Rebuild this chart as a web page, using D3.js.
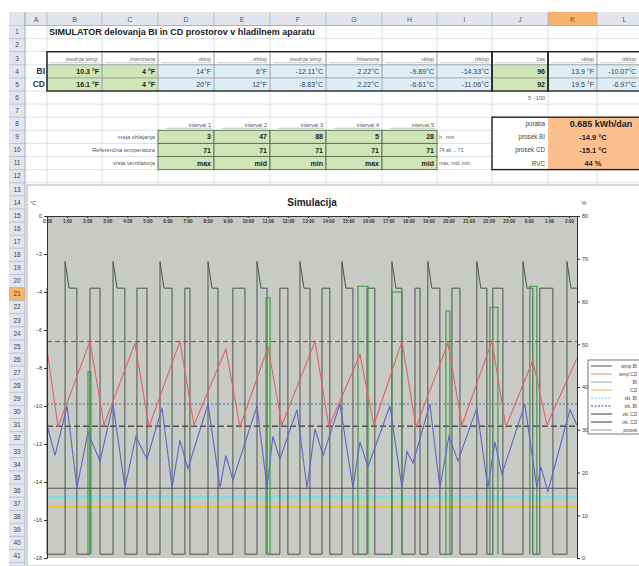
<!DOCTYPE html>
<html><head><meta charset="utf-8">
<script src="https://cdn.jsdelivr.net/npm/d3@7"></script>
<style>
html,body{margin:0;padding:0;background:#fff;}
svg{display:block;font-family:"Liberation Sans",Arial,sans-serif;}
</style></head><body>
<svg id="c" width="639" height="566"></svg>
<script>
// ---------------- data ----------------
const sheetTitle = "SIMULATOR delovanja BI in CD prostorov v hladilnem aparatu";
const colLetters = ["A","B","C","D","E","F","G","H","I","J","K","L"];
const tableHeaders = ["srednja temp.","intenziteta","vklop","izklop","srednja temp.","histereza","vklop","izklop","čas","vklop","izklop"];
const rowBI = ["10.3 °F","4 °F","14°F","6°F","-12.11°C","2.22°C","-9.89°C","-14.33°C","96","13.9 °F","-10.07°C"];
const rowCD = ["16.1 °F","4 °F","20°F","12°F","-8.83°C","2.22°C","-6.61°C","-11.06°C","92","19.5 °F","-6.97°C"];
const rangeNote = "5 - 100";
const intervals = ["interval 1","interval 2","interval 3","interval 4","interval 5"];
const mejaOhlajanja = ["3","47","88","5","28"];
const refTemp = ["71","71","71","71","71"];
const ventilator = ["max","mid","min","max","mid"];
const intervalLabels = ["meja ohlajanja","Referenčna temperatura","vrsta ventilatorja"];
const intervalNotes = ["h - min","74 ali ... 71","max, mid, min"];
const resultLabels = ["poraba","prosek BI","prosek CD","RVC"];
const resultValues = ["0.685 kWh/dan","-14.9 °C","-15.1 °C","44 %"];

const chartTitle = "Simulacija";
const hourLabels = ["0:00","1:00","2:00","3:00","4:00","5:00","6:00","7:00","8:00","9:00","10:00","11:00","12:00","13:00","14:00","15:00","16:00","17:00","18:00","19:00","20:00","21:00","22:00","23:00","0:00","1:00","2:00"];
const leftTicks = [0,-2,-4,-6,-8,-10,-12,-14,-16,-18];
const rightTicks = [0,10,20,30,40,50,60,70,80];

// temperature CD (°C) vs time (h)
const cdT = [0,0.55,2.14,2.84,4.38,5.08,6.62,7.32,8.91,9.61,11.01,11.70,13.35,14.04,15.59,16.28,17.68,18.38,19.97,20.67,22.16,22.86,24.20,24.90,26.39];
const cdV = [-7.0,-11.1,-6.6,-11.0,-6.7,-11.1,-6.6,-11.0,-7.0,-11.1,-6.9,-11.0,-6.6,-11.1,-7.3,-11.0,-6.6,-11.1,-6.7,-11.0,-6.6,-11.1,-7.6,-11.0,-7.5];
// temperature BI (°C) vs time (h)
const biT = [0,0.40,1.00,1.49,2.04,2.64,3.29,3.88,4.43,4.98,5.73,6.23,6.62,7.02,8.02,8.62,8.91,9.26,10.46,10.96,11.25,11.60,12.45,12.95,13.35,13.75,14.59,15.24,15.59,15.99,17.08,17.68,17.93,18.23,19.07,19.57,20.02,20.47,21.41,21.96,22.31,22.66,23.80,24.40,24.60,24.95,26.05,26.39];
const biV = [-11.0,-12.6,-10.0,-14.3,-11.4,-12.9,-9.9,-14.3,-11.6,-12.8,-10.1,-14.3,-11.8,-13.3,-9.9,-14.3,-12.6,-13.9,-10.0,-14.3,-11.6,-12.8,-10.2,-14.3,-11.2,-12.6,-9.9,-14.3,-11.9,-13.2,-10.0,-14.3,-12.4,-13.0,-9.9,-14.3,-11.6,-12.9,-10.1,-14.3,-11.9,-13.6,-9.9,-14.3,-13.2,-14.5,-10.2,-11.0];
// compressor state: switching times (h) and level after switching (°C scale)
const kompStart = -3.8;
const kompT = [0.00,0.90,1.49,2.14,2.64,3.29,3.88,4.48,4.98,5.63,6.23,6.87,7.12,8.02,8.52,9.26,9.86,10.46,10.96,11.60,12.00,12.60,13.10,13.70,14.09,14.69,15.24,15.94,16.33,17.18,17.68,18.33,18.58,18.97,19.57,20.17,20.57,21.41,21.91,22.21,22.71,23.71,24.20,24.55,25.20,25.90];
const kompV = [-17.8,-2.4,-17.8,-3.8,-17.8,-2.4,-17.8,-3.8,-17.8,-2.4,-17.8,-3.8,-17.8,-2.4,-17.8,-3.8,-17.8,-2.4,-17.8,-3.8,-17.8,-2.4,-17.8,-3.8,-17.8,-2.4,-17.8,-3.8,-17.8,-2.4,-17.8,-3.8,-17.8,-2.4,-17.8,-3.8,-17.8,-2.4,-17.8,-3.8,-17.8,-2.4,-17.8,-3.8,-17.8,-2.4];
// CD valve pulses: start (h), end (h), level (°C scale)
const ventStart = [2.04,10.91,15.49,17.18,19.87,22.06,24.05];
const ventEnd   = [2.19,11.11,15.99,17.68,20.07,22.46,24.40];
const ventLevel = [-8.2,-4.3,-3.7,-4.0,-5.0,-4.8,-3.7];
const ventLow = -17.8;
// reference levels (°C)
const refNames = ["vklop CD","izklop CD","vklop BI","izklop BI","prosek BI","prosek CD"];
const refValues = [-6.61,-11.06,-9.89,-14.33,-14.8,-15.3];
const legendLabels = ["temp BI","temp CD","BI","CD","vkl. BI","izk. BI","vkl. CD","izk. CD","prosek"];

// ---------------- spreadsheet ----------------
const svg = d3.select("#c");
const W = 639, H = 566;
const colX = [25,47,102,158,214,270,326,382,437,492,548,597,652];
const rowTop = i => 25.5 + (i-1)*13.1;
const rowMid = i => rowTop(i) + 6.55;
const hdrFill = "#e2e6ec", gridC = "#d3d9e2";
const green = "#cfe4b9", blue = "#dcedf4", orange = "#fbc08e";

// gridlines rows 1-12
const g0 = svg.append("g");
for (let i = 1; i <= 13; i++) {
  g0.append("line").attr("x1",25).attr("x2",W).attr("y1",rowTop(i)).attr("y2",rowTop(i)).attr("stroke",gridC).attr("stroke-width",0.8);
}
colX.forEach(cx => g0.append("line").attr("x1",cx).attr("x2",cx).attr("y1",25.5).attr("y2",185).attr("stroke",gridC).attr("stroke-width",0.8));

// column header bar
svg.append("rect").attr("x",9).attr("y",12).attr("width",W-9).attr("height",13.5).attr("fill",hdrFill);
svg.append("rect").attr("x",colX[10]).attr("y",12).attr("width",colX[11]-colX[10]).attr("height",13.5).attr("fill","#f6b36e");
colX.forEach(cx => svg.append("line").attr("x1",cx).attr("x2",cx).attr("y1",12).attr("y2",25.5).attr("stroke","#a9b4c2").attr("stroke-width",0.8));
colLetters.forEach((L,i) => svg.append("text").attr("x",(colX[i]+colX[i+1])/2).attr("y",21.5).attr("text-anchor","middle").attr("font-size",7).attr("fill","#555").text(L));
svg.append("line").attr("x1",9).attr("x2",W).attr("y1",25.5).attr("y2",25.5).attr("stroke","#9aa6b6").attr("stroke-width",0.8);

// row header column
svg.append("rect").attr("x",9).attr("y",25.5).attr("width",16).attr("height",H-25.5).attr("fill",hdrFill);
svg.append("rect").attr("x",9).attr("y",rowTop(21)).attr("width",16).attr("height",13.1).attr("fill","#f6b36e");
for (let i = 1; i <= 41; i++) {
  svg.append("line").attr("x1",9).attr("x2",25).attr("y1",rowTop(i+1)).attr("y2",rowTop(i+1)).attr("stroke","#a9b4c2").attr("stroke-width",0.7);
  svg.append("text").attr("x",17).attr("y",rowMid(i)+2.3).attr("text-anchor","middle").attr("font-size",6.5).attr("fill","#444").text(i);
}
svg.append("line").attr("x1",25).attr("x2",25).attr("y1",12).attr("y2",H).attr("stroke","#9aa6b6").attr("stroke-width",0.8);

// title
svg.append("text").attr("x",49).attr("y",rowMid(1)+3).attr("font-size",9).attr("font-weight","bold").attr("fill","#222").text(sheetTitle);

// table rows 3-5
const tb = svg.append("g");
const fillFor = j => (j <= 1 || j === 8) ? green : blue;
[rowBI,rowCD].forEach((row,r) => {
  row.forEach((v,j) => {
    const x0 = colX[j+1], x1 = colX[j+2];
    tb.append("rect").attr("x",x0).attr("y",rowTop(4+r)).attr("width",x1-x0).attr("height",13.1).attr("fill",fillFor(j));
    const bold = (j <= 1 || j === 8);
    tb.append("text").attr("x",Math.min(x1,W)-3).attr("y",rowMid(4+r)+2.6).attr("text-anchor","end")
      .attr("font-size",7).attr("font-weight",bold?"bold":"normal").attr("fill",bold?"#222":"#33445a").text(v);
  });
});
tableHeaders.forEach((h,j) => {
  const x1 = colX[j+2];
  tb.append("text").attr("x",Math.min(x1,W)-3).attr("y",rowMid(3)+3).attr("text-anchor","end").attr("font-size",5.5).attr("fill","#666").text(h);
  tb.append("line").attr("x1",colX[j+1]+3).attr("x2",Math.min(x1,W)-2).attr("y1",rowMid(3)+4.5).attr("y2",rowMid(3)+4.5).attr("stroke","#999").attr("stroke-width",0.5);
});
for (let j = 1; j <= 11; j++) tb.append("line").attr("x1",colX[j]).attr("x2",colX[j]).attr("y1",rowTop(3)).attr("y2",rowTop(6)).attr("stroke","#777").attr("stroke-width",0.6);
[4,5].forEach(i => tb.append("line").attr("x1",colX[1]).attr("x2",W).attr("y1",rowTop(i)).attr("y2",rowTop(i)).attr("stroke","#777").attr("stroke-width",0.6));
[[1,9],[9,10],[10,12]].forEach(([a,b]) => tb.append("rect").attr("x",colX[a]).attr("y",rowTop(3)).attr("width",colX[b]-colX[a]).attr("height",rowTop(6)-rowTop(3)).attr("fill","none").attr("stroke","#222").attr("stroke-width",1.4));
[["BI",4],["CD",5]].forEach(([t,i]) => tb.append("text").attr("x",45).attr("y",rowMid(i)+3).attr("text-anchor","end").attr("font-size",8.5).attr("font-weight","bold").attr("fill","#333").text(t));
tb.append("text").attr("x",colX[10]-3).attr("y",rowMid(6)+2).attr("text-anchor","end").attr("font-size",5.5).attr("fill","#555").text(rangeNote);

// interval table rows 8-11
const it = svg.append("g");
intervals.forEach((h,j) => {
  const x0 = colX[j+3], x1 = colX[j+4];
  it.append("text").attr("x",x1-3).attr("y",rowMid(8)+3).attr("text-anchor","end").attr("font-size",5.5).attr("fill","#555").text(h);
  it.append("line").attr("x1",x0+8).attr("x2",x1-2).attr("y1",rowMid(8)+4.5).attr("y2",rowMid(8)+4.5).attr("stroke","#888").attr("stroke-width",0.5);
});
[mejaOhlajanja,refTemp,ventilator].forEach((row,r) => {
  row.forEach((v,j) => {
    const x0 = colX[j+3], x1 = colX[j+4];
    it.append("rect").attr("x",x0).attr("y",rowTop(9+r)).attr("width",x1-x0).attr("height",13.1).attr("fill",green).attr("stroke","#55704a").attr("stroke-width",0.9);
    it.append("text").attr("x",x1-3).attr("y",rowMid(9+r)+2.6).attr("text-anchor","end").attr("font-size",7).attr("font-weight","bold").attr("fill","#222").text(v);
  });
  it.append("text").attr("x",colX[3]-3).attr("y",rowMid(9+r)+2.2).attr("text-anchor","end").attr("font-size",5.8).attr("fill","#555").text(intervalLabels[r]);
  it.append("text").attr("x",colX[8]+2).attr("y",rowMid(9+r)+2.2).attr("font-size",5).attr("fill","#555").text(intervalNotes[r]);
});

// result box J8:L11
const rb = svg.append("g");
rb.append("rect").attr("x",colX[9]).attr("y",rowTop(8)).attr("width",colX[10]-colX[9]).attr("height",rowTop(12)-rowTop(8)).attr("fill","#fff");
rb.append("rect").attr("x",colX[10]).attr("y",rowTop(8)).attr("width",W-colX[10]).attr("height",rowTop(12)-rowTop(8)).attr("fill",orange);
rb.append("rect").attr("x",colX[9]).attr("y",rowTop(8)).attr("width",W-colX[9]+3).attr("height",rowTop(12)-rowTop(8)).attr("fill","none").attr("stroke","#222").attr("stroke-width",1.4);
resultLabels.forEach((t,i) => {
  rb.append("text").attr("x",colX[10]-3).attr("y",rowMid(8+i)+2.5).attr("text-anchor","end").attr("font-size",6.3).attr("fill","#444").text(t);
  rb.append("text").attr("x",i===0?601:593).attr("y",rowMid(8+i)+(i===0?3.3:2.8)).attr("text-anchor","middle").attr("font-size",i===0?9:7.5).attr("font-weight","bold").attr("fill","#222").text(resultValues[i]);
});

// ---------------- chart ----------------
const ch = svg.append("g");
ch.append("rect").attr("x",27).attr("y",185).attr("width",W-26).attr("height",H-185).attr("fill","#fff").attr("stroke","#9a9a9a").attr("stroke-width",0.8);

const x = d3.scaleLinear().domain([0,26.4]).range([47,577]);
const yL = d3.scaleLinear().domain([-18,0]).range([558,216]);
const yR = d3.scaleLinear().domain([0,80]).range([558,216]);

ch.append("rect").attr("x",x(0)).attr("y",yL(0)).attr("width",x(26.4)-x(0)).attr("height",yL(-18)-yL(0)).attr("fill","#c8cac5");

ch.append("text").attr("x",312).attr("y",206).attr("text-anchor","middle").attr("font-size",10).attr("font-weight","bold").attr("fill","#222").text(chartTitle);
ch.append("text").attr("x",33).attr("y",205).attr("text-anchor","middle").attr("font-size",5.5).attr("fill","#444").text("°C");
ch.append("text").attr("x",584).attr("y",205).attr("text-anchor","middle").attr("font-size",5.5).attr("fill","#444").text("%");

const line = d3.line().x(d => x(d[0])).y(d => yL(d[1]));

// reference lines
const refStyle = [
  {c:"#5a5a5a",w:1,d:"5,3"},
  {c:"#111",w:1,d:"6,3"},
  {c:"#3a4f9a",w:0.8,d:"2,2"},
  {c:"#5c4f5e",w:1.2,d:null},
  {c:"#8fd8d8",w:3,d:null},
  {c:"#f1c232",w:2.5,d:null}
];
refValues.forEach((v,i) => {
  const s = refStyle[i];
  const p = ch.append("path").attr("d",line([[0,v],[26.4,v]])).attr("fill","none").attr("stroke",s.c).attr("stroke-width",s.w);
  if (s.d) p.attr("stroke-dasharray",s.d);
});

// compressor step
const kompPts = [[0,kompStart]];
let prev = kompStart;
kompT.forEach((t,i) => {
  kompPts.push([t,prev]);
  const v = kompV[i];
  if (v > kompStart) { kompPts.push([t,v]); kompPts.push([t+0.2,kompStart]); prev = kompStart; }
  else { kompPts.push([t,v]); prev = v; }
});
kompPts.push([26.4,prev]);
ch.append("path").attr("d",line(kompPts)).attr("fill","none").attr("stroke","#4a544a").attr("stroke-width",1);

// CD valve pulses
ventStart.forEach((t0,i) => {
  const t1 = ventEnd[i], lv = ventLevel[i];
  ch.append("path").attr("d",line([[t0,ventLow],[t0,lv],[t1,lv],[t1,ventLow]])).attr("fill","none").attr("stroke","#2f9a3a").attr("stroke-width",1.1);
});

// temperatures
ch.append("path").attr("d",line(cdT.map((t,i)=>[t,cdV[i]]))).attr("fill","none").attr("stroke","#e06464").attr("stroke-width",1.1);
ch.append("path").attr("d",line(biT.map((t,i)=>[t,biV[i]]))).attr("fill","none").attr("stroke","#5e66c8").attr("stroke-width",1.1);

// axes
const axL = ch.append("g").attr("transform",`translate(${x(0)},0)`).call(d3.axisLeft(yL).tickValues(leftTicks).tickSize(3).tickPadding(2));
const axR = ch.append("g").attr("transform",`translate(${x(26.4)},0)`).call(d3.axisRight(yR).tickValues(rightTicks).tickSize(3).tickPadding(2));
const axT = ch.append("g").attr("transform",`translate(0,${yL(0)})`).call(d3.axisBottom(x).tickValues(d3.range(hourLabels.length)).tickFormat(i => hourLabels[i]).tickSize(2).tickPadding(2));
[axL,axR,axT].forEach(a => {
  a.selectAll("path.domain").attr("stroke","#333").attr("stroke-width",1);
  a.selectAll(".tick line").attr("stroke","#333");
  a.selectAll("text").attr("font-size",5.5).attr("fill","#333").attr("font-family","Liberation Sans, Arial, sans-serif");
});
axT.selectAll("text").attr("font-size",4.6).attr("font-weight","bold");

// legend
const lg = ch.append("g");
lg.append("rect").attr("x",588).attr("y",360).attr("width",60).attr("height",74).attr("fill","#fff").attr("stroke","#555").attr("stroke-width",0.8);
const legStyle = [
  {c:"#4a544a",d:null},{c:"#e88a8a",d:null},{c:"#8fa8e8",d:null},{c:"#f1b040",d:null},
  {c:"#6fc6e6",d:"2,1.5"},{c:"#2b3f8f",d:"2,1.5"},{c:"#333",d:null},{c:"#333",d:null},{c:"#999",d:null}
];
legendLabels.forEach((t,i) => {
  const yy = 366 + i*8;
  const l = lg.append("line").attr("x1",591).attr("x2",612).attr("y1",yy).attr("y2",yy).attr("stroke",legStyle[i].c).attr("stroke-width",1);
  if (legStyle[i].d) l.attr("stroke-dasharray",legStyle[i].d);
  lg.append("text").attr("x",637).attr("y",yy+1.7).attr("text-anchor","end").attr("font-size",4.6).attr("fill","#444").text(t);
});
</script>
</body></html>
